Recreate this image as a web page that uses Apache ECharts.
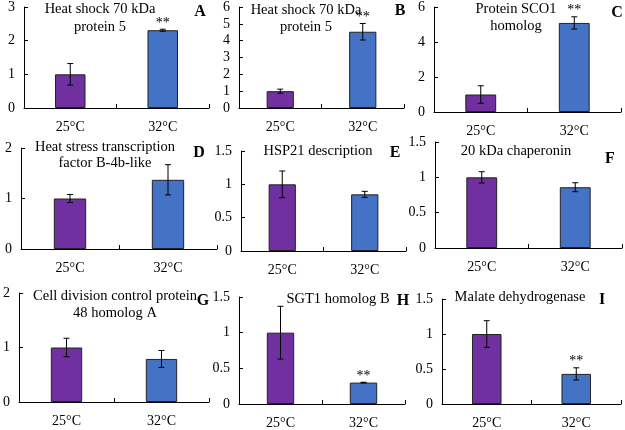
<!DOCTYPE html>
<html>
<head>
<meta charset="utf-8">
<script src="https://cdn.jsdelivr.net/npm/echarts@6/dist/echarts.min.js"></script>
<style>html,body{margin:0;padding:0;background:#fff}#c{width:625px;height:430px}</style>
</head>
<body>
<div id="c"></div>
<script>
const categories = ['25°C', '32°C'];
const panelLetters = ['A', 'B', 'C', 'D', 'E', 'F', 'G', 'H', 'I'];
const panelTitles = [
  ['Heat shock 70 kDa', 'protein 5'],
  ['Heat shock 70 kDa', 'protein 5'],
  ['Protein SCO1', 'homolog'],
  ['Heat stress transcription', 'factor B-4b-like'],
  ['HSP21 description'],
  ['20 kDa chaperonin'],
  ['Cell division control protein', '48 homolog A'],
  ['SGT1 homolog B'],
  ['Malate dehydrogenase']
];
const means = [[1, 2.31], [1, 4.53], [1, 5.09], [1, 1.37], [1, 0.85], [1, 0.86], [1, 0.79], [1, 0.30], [1, 0.43]];
const errors = [[0.32, 0.03], [0.12, 0.49], [0.5, 0.35], [0.08, 0.3], [0.2, 0.045], [0.08, 0.063], [0.17, 0.155], [0.37, 0.005], [0.19, 0.087]];
const signif = [['', '**'], ['', '**'], ['', '**'], ['', ''], ['', ''], ['', ''], ['', ''], ['', '**'], ['', '**']];
const yMax = [3, 6, 6, 2, 1.5, 1.5, 2, 1.5, 1.5];
const yInterval = [1, 1, 2, 1, 0.5, 0.5, 1, 0.5, 0.5];

// layout (pixels)
const grids = [
  {left: 24, top: 7, width: 185, height: 101},
  {left: 239, top: 6, width: 165, height: 102},
  {left: 434, top: 7, width: 187, height: 105},
  {left: 21, top: 148, width: 196, height: 101},
  {left: 241, top: 151, width: 165, height: 100},
  {left: 435, top: 142, width: 187, height: 106},
  {left: 17, top: 293, width: 192, height: 109},
  {left: 239, top: 297, width: 166, height: 109},
  {left: 442, top: 299, width: 179, height: 107}
];
const titlePos = [
  {x: 100, y: 9, dy: 18}, {x: 306, y: 10, dy: 17}, {x: 516, y: 9, dy: 17},
  {x: 105, y: 147, dy: 16}, {x: 318, y: 151}, {x: 516, y: 151},
  {x: 115, y: 296, dy: 17}, {x: 338, y: 299}, {x: 520, y: 297}
];
const letterPos = [
  {x: 200, y: 12}, {x: 400, y: 11}, {x: 617, y: 13},
  {x: 199, y: 153}, {x: 395, y: 153}, {x: 610, y: 159},
  {x: 203, y: 301}, {x: 403, y: 301}, {x: 602, y: 300}
];

const FONT = '"Liberation Serif", "Times New Roman", serif';
const colors = ['#7030A0', '#4472C4'];

const option = {
  backgroundColor: '#fff',
  animation: false,
  grid: [], xAxis: [], yAxis: [], series: [], graphic: []
};

for (let i = 0; i < 9; i++) {
  option.grid.push(Object.assign({containLabel: false}, grids[i]));
  option.xAxis.push({
    type: 'category', gridIndex: i, data: categories, boundaryGap: true,
    axisLine: {lineStyle: {color: '#000', width: 1}},
    axisTick: {show: true, inside: true, length: 4, lineStyle: {color: '#000'}},
    axisLabel: {fontFamily: FONT, fontSize: 14, color: '#000', margin: 12}
  });
  option.yAxis.push({
    type: 'value', gridIndex: i, min: 0, max: yMax[i], interval: yInterval[i],
    splitLine: {show: false},
    axisLine: {show: true, lineStyle: {color: '#000', width: 1}},
    axisTick: {show: true, inside: true, length: 4, lineStyle: {color: '#000'}},
    axisLabel: {fontFamily: FONT, fontSize: 14, color: '#000', margin: 9}
  });
  option.series.push({
    type: 'bar', xAxisIndex: i, yAxisIndex: i, barWidth: '33%',
    data: means[i].map((v, k) => ({value: v, itemStyle: {color: colors[k]}})),
    itemStyle: {borderColor: '#222', borderWidth: 1}
  });
  const idx = i;
  option.series.push({
    type: 'custom', xAxisIndex: i, yAxisIndex: i, z: 5,
    data: means[i].map((v, k) => [k, v, errors[i][k]]),
    renderItem: function (params, api) {
      const k = api.value(0), m = api.value(1), e = api.value(2);
      const top = api.coord([k, m + e]);
      const bot = api.coord([k, m - e]);
      const hc = 3;
      const st = {stroke: '#000', lineWidth: 1};
      const children = [
        {type: 'line', shape: {x1: top[0], y1: top[1], x2: bot[0], y2: bot[1]}, style: st},
        {type: 'line', shape: {x1: top[0] - hc, y1: top[1], x2: top[0] + hc, y2: top[1]}, style: st},
        {type: 'line', shape: {x1: bot[0] - hc, y1: bot[1], x2: bot[0] + hc, y2: bot[1]}, style: st}
      ];
      const s = signif[idx][params.dataIndex];
      if (s) {
        children.push({type: 'text', style: {text: s, x: top[0], y: top[1] + 1, align: 'center', verticalAlign: 'bottom', font: '14px ' + FONT, fill: '#000'}});
      }
      return {type: 'group', children: children};
    }
  });
  const tp = titlePos[i];
  panelTitles[i].forEach((t, j) => {
    option.graphic.push({type: 'text', x: tp.x, y: tp.y + j * (tp.dy || 0), style: {text: t, font: '14.5px ' + FONT, fill: '#000', align: 'center', verticalAlign: 'middle'}});
  });
  option.graphic.push({type: 'text', x: letterPos[i].x, y: letterPos[i].y, style: {text: panelLetters[i], font: 'bold 16px ' + FONT, fill: '#000', align: 'center', verticalAlign: 'middle'}});
}

const chart = echarts.init(document.getElementById('c'), null, {renderer: 'canvas'});
chart.setOption(option);
</script>
</body>
</html>
